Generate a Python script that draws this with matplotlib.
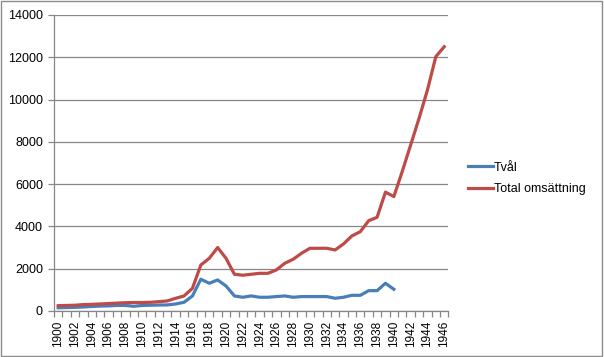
import matplotlib
matplotlib.use("Agg")
from matplotlib import pyplot as plt
from matplotlib.patches import Rectangle

plt.rcParams['font.family'] = ['Liberation Sans', 'DejaVu Sans']

# years on the category axis
years = list(range(1900, 1947))

# Tvål (1900-1940)
tval = [150, 160, 170, 190, 210, 230, 240, 260, 260, 220,
        260, 270, 280, 284, 330, 410, 710, 1500, 1310, 1466,
        1180, 710, 648, 710, 648, 648, 680, 710, 648, 680,
        680, 680, 680, 600, 648, 740, 740, 960, 960, 1310,
        1025]

# Total omsättning (1900-1946)
total = [250, 260, 270, 300, 310, 330, 350, 370, 390, 400,
         400, 410, 440, 473, 600, 710, 1074, 2175, 2490, 3000,
         2490, 1735, 1690, 1735, 1780, 1780, 1940, 2255, 2445, 2730,
         2965, 2965, 2965, 2885, 3170, 3550, 3750, 4270, 4430, 5620,
         5410, 6600, 7850, 9110, 10450, 12030, 12500]

fig = plt.figure(figsize=(6.04, 3.57), dpi=100)
ax = fig.add_axes([0.0894, 0.129, 0.653, 0.829])

grid_col = '#878787'
ax.plot(years[:len(tval)], tval, color='#4A7EBB', lw=2.3, label='Tvål',
        solid_joinstyle='round')
ax.plot(years, total, color='#BE4B48', lw=2.3, label='Total omsättning',
        solid_joinstyle='round')

ax.set_xlim(1899.5, 1946.5)
ax.set_ylim(0, 14000)
ax.set_yticks(range(0, 14001, 2000))
ax.yaxis.grid(True, color=grid_col, lw=0.9)
ax.set_axisbelow(True)

ax.set_xticks(years[::2])
ax.set_xticklabels([str(y) for y in years[::2]], rotation=90, fontsize=8.5)
ax.set_xticks([y - 0.5 for y in years] + [1946.5], minor=True)
ax.tick_params(axis='x', which='major', length=0, pad=7)
ax.tick_params(axis='x', which='minor', length=4, color=grid_col, width=0.9)
ax.tick_params(axis='y', length=4, color=grid_col, width=0.9, labelsize=9, pad=4)

for s in ['top', 'right']:
    ax.spines[s].set_visible(False)
for s in ['left', 'bottom']:
    ax.spines[s].set_color(grid_col)
    ax.spines[s].set_linewidth(0.9)

ax.legend(loc='center left', bbox_to_anchor=(1.02, 0.448), frameon=False,
          fontsize=9, handlelength=2.0, handletextpad=0.1, labelspacing=0.75)

fig.patches.append(Rectangle((0.001, 0.003), 0.996, 0.994, transform=fig.transFigure,
                             fill=False, edgecolor='#8c8c8c', lw=1.0))

fig.savefig('out.png', dpi=100)
